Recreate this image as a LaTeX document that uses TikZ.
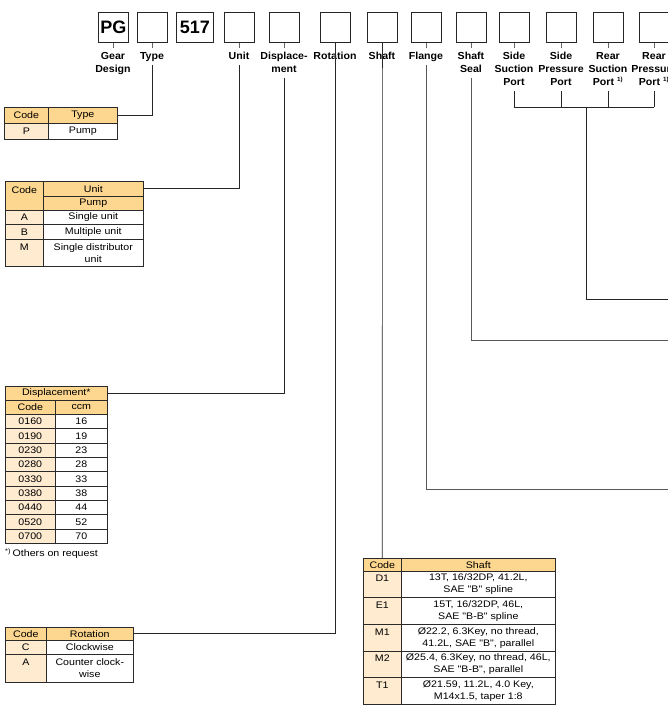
\documentclass[tikz,border=0pt]{standalone}
\usepackage{fontspec}
\setmainfont{Liberation Sans}
\newfontfamily\tabfont[FakeStretch=1.12]{Liberation Sans}
\newfontfamily\lblfont[FakeStretch=1.04]{Liberation Sans}
\definecolor{hdrc}{HTML}{FDD68F}
\definecolor{codec}{HTML}{FEEBD0}
\definecolor{linec}{HTML}{2A2A2A}
\tikzset{
 cell/.style={draw=linec, line width=0.6pt, anchor=north west, inner sep=0pt, align=center, font=\tabfont\fontsize{9.5}{12}\selectfont},
 hcell/.style={cell, fill=hdrc},
 ccell/.style={cell, fill=codec},
 vcell/.style={cell, fill=white},
 codebox/.style={draw=black!85, line width=0.8pt, minimum width=30pt, minimum height=30pt, inner sep=0pt, anchor=north west, font=\bfseries\fontsize{18}{20}\selectfont},
 lbl/.style={anchor=north, inner sep=0pt, align=center, text depth=2.5pt, font=\lblfont\bfseries\fontsize{10.2}{13}\selectfont},
 conn/.style={draw=black!85, line width=0.7pt},
 tick/.style={draw=black!60, line width=0.7pt},
}
\begin{document}
\begin{tikzpicture}[x=1pt,y=-1pt]
\useasboundingbox (0,0) rectangle (668,712);
% top code boxes
\node[codebox] (pg) at (98,12) {PG};
\node[codebox] (ty) at (137,12) {};
\node[codebox, minimum width=37pt] (n517) at (176,12) {517};
\node[codebox] (un) at (224,12) {};
\node[codebox] (ds) at (269,12) {};
\node[codebox] (ro) at (320,12) {};
\node[codebox] (sh) at (367,12) {};
\node[codebox] (fl) at (411,12) {};
\node[codebox] (se) at (456,12) {};
\node[codebox] (ss) at (499,12) {};
\node[codebox] (sp) at (546,12) {};
\node[codebox] (rs) at (593,12) {};
\node[codebox] (rp) at (639,12) {};
% ticks
\foreach \b in {pg,ty,un,ds,fl,se,ss,sp,rs,rp}{\draw[tick] (\b.south) -- ++(0,5);}
% labels
\node[lbl] (pgL) at (113,52) {Gear\\Design};
\node[lbl] (tyL) at (152,52) {Type};
\node[lbl] (unL) at (239,52) {Unit};
\node[lbl] (dsL) at (284,52) {Displace-\\ment};
\node[lbl] (roL) at (335,52) {Rotation};
\node[lbl] (shL) at (382,52) {Shaft};
\node[lbl] (flL) at (426,52) {Flange};
\node[lbl] (seL) at (471,52) {Shaft\\Seal};
\node[lbl] (ssL) at (514,52) {Side\\Suction\\Port};
\node[lbl] (spL) at (561,52) {Side\\Pressure\\Port};
\node[lbl] (rsL) at (608,52) {Rear\\Suction\\Port \textsuperscript{\fontsize{6}{7}\selectfont 1)}};
\node[lbl] (rpL) at (654,52) {Rear\\Pressure\\Port \textsuperscript{\fontsize{6}{7}\selectfont 1)}};

% Type table
\node[hcell, minimum width=44pt, minimum height=16pt] (tyC) at (4,107) {Code};
\node[hcell, minimum width=69pt, minimum height=16pt] (tyH) at (48,107) {Type};
\node[ccell, minimum width=44pt, minimum height=16pt] (tyPc) at (4,123) {P};
\node[vcell, minimum width=69pt, minimum height=16pt] (tyPv) at (48,123) {Pump};

% Unit table
\node[hcell, minimum width=38pt, minimum height=29pt] (unC) at (5,181) {Code\\\mbox{}};
\node[hcell, minimum width=100pt, minimum height=15pt] (unH) at (43,181) {Unit};
\node[hcell, minimum width=100pt, minimum height=14pt] (unP) at (43,196) {Pump};
\node[ccell, minimum width=38pt, minimum height=14pt] (unAc) at (5,210) {A};
\node[vcell, minimum width=100pt, minimum height=14pt] (unAv) at (43,210) {Single unit};
\node[ccell, minimum width=38pt, minimum height=15pt] (unBc) at (5,224) {B};
\node[vcell, minimum width=100pt, minimum height=15pt] (unBv) at (43,224) {Multiple unit};
\node[ccell, minimum width=38pt, minimum height=27pt] (unMc) at (5,239) {M\\\mbox{}};
\node[vcell, minimum width=100pt, minimum height=27pt] (unMv) at (43,239) {Single distributor\\unit};

% Displacement table
\node[hcell, minimum width=102pt, minimum height=14pt] (dsH) at (5,386) {Displacement*};
\node[hcell, minimum width=50pt, minimum height=14pt] (dsC) at (5,400) {Code};
\node[hcell, minimum width=52pt, minimum height=14pt] (dsU) at (55,400) {ccm};
\foreach \c/\v [count=\i from 0] in {0160/16,0190/19,0230/23,0280/28,0330/33,0380/38,0440/44,0520/52,0700/70}{
  \node[ccell, minimum width=50pt, minimum height=14.33pt] (dsc\i) at (5,{414+14.33*\i}) {\c};
  \node[vcell, minimum width=52pt, minimum height=14.33pt] (dsv\i) at (55,{414+14.33*\i}) {\v};
}
\node[anchor=north west, inner sep=0pt, font=\tabfont\fontsize{9.5}{12}\selectfont] (dsNote) at (5,548) {\textsuperscript{*)}\,Others on request};

% Rotation table
\node[hcell, minimum width=41pt, minimum height=13pt] (roC) at (5,627) {Code};
\node[hcell, minimum width=87pt, minimum height=13pt] (roH) at (46,627) {Rotation};
\node[ccell, minimum width=41pt, minimum height=14pt] (roCc) at (5,640) {C};
\node[vcell, minimum width=87pt, minimum height=14pt] (roCv) at (46,640) {Clockwise};
\node[ccell, minimum width=41pt, minimum height=28pt] (roAc) at (5,654) {A\\\mbox{}};
\node[vcell, minimum width=87pt, minimum height=28pt] (roAv) at (46,654) {Counter clock-\\wise};

% Shaft table
\node[hcell, minimum width=38pt, minimum height=13pt] (shC) at (363,558) {Code};
\node[hcell, minimum width=154pt, minimum height=13pt] (shH) at (401,558) {Shaft};
\node[ccell, minimum width=38pt, minimum height=26pt] (shD1c) at (363,571) {D1\\\mbox{}};
\node[vcell, minimum width=154pt, minimum height=26pt] (shD1v) at (401,571) {13T, 16/32DP, 41.2L,\\SAE "B" spline};
\node[ccell, minimum width=38pt, minimum height=27pt] (shE1c) at (363,597) {E1\\\mbox{}};
\node[vcell, minimum width=154pt, minimum height=27pt] (shE1v) at (401,597) {15T, 16/32DP, 46L,\\SAE "B-B" spline};
\node[ccell, minimum width=38pt, minimum height=27pt] (shM1c) at (363,624) {M1\\\mbox{}};
\node[vcell, minimum width=154pt, minimum height=27pt] (shM1v) at (401,624) {Ø22.2, 6.3Key, no thread,\\41.2L, SAE "B", parallel};
\node[ccell, minimum width=38pt, minimum height=26pt] (shM2c) at (363,651) {M2\\\mbox{}};
\node[vcell, minimum width=154pt, minimum height=26pt] (shM2v) at (401,651) {Ø25.4, 6.3Key, no thread, 46L,\\SAE "B-B", parallel};
\node[ccell, minimum width=38pt, minimum height=27pt] (shT1c) at (363,677) {T1\\\mbox{}};
\node[vcell, minimum width=154pt, minimum height=27pt] (shT1v) at (401,677) {Ø21.59, 11.2L, 4.0 Key,\\M14x1.5, taper 1:8};

% connectors
\coordinate (flE) at (668,489);
\coordinate (seE) at (668,340);
\coordinate (pbar) at (586,107);
\coordinate (ptE) at (668,299);
\draw[conn, shorten <=3pt] (tyL.south) |- (tyH.east);
\draw[conn, shorten <=3pt] (unL.south) |- (unH.east);
\draw[conn, shorten <=3pt] (dsL.south) |- (dsH.east);
\draw[conn] (ro.south) |- (roH.east);
\draw[conn] (sh.south) -- (shC.north);
\draw[conn, black!65, line width=0.9pt, shorten <=3pt] (flL.south) |- (flE);
\draw[conn, black!65, line width=0.9pt, shorten <=3pt] (seL.south) |- (seE);
\foreach \p in {ssL,spL,rsL,rpL}{\draw[conn, shorten <=3pt] (\p.south) -- (\p.south |- pbar);}
\draw[conn] (ssL.south |- pbar) -- (rpL.south |- pbar);
\draw[conn] (pbar) |- (ptE);
\end{tikzpicture}
\end{document}
